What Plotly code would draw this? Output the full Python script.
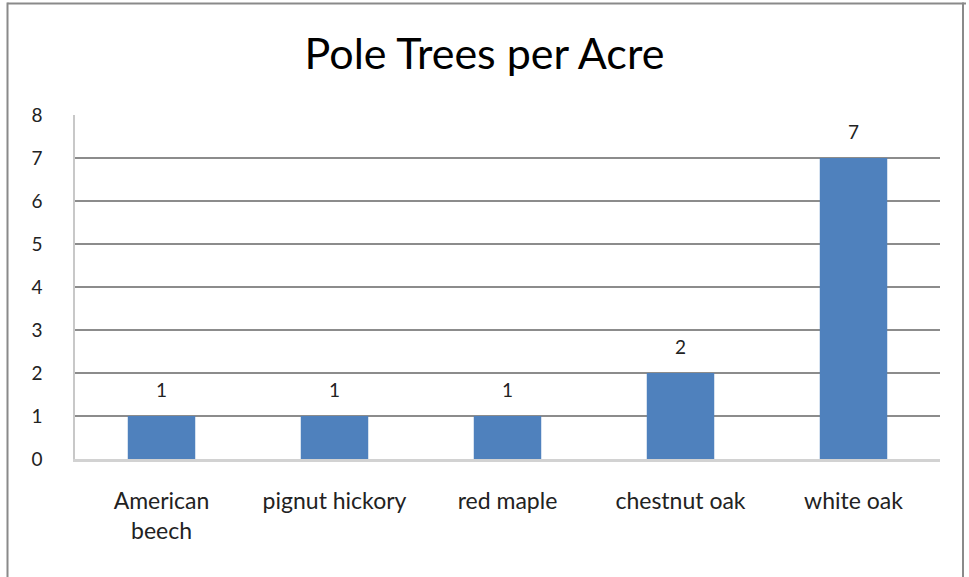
import plotly.graph_objects as go

categories = ["American<br>beech", "pignut hickory", "red maple", "chestnut oak", "white oak"]
values = [1, 1, 1, 2, 7]
y_ticks = [0, 1, 2, 3, 4, 5, 6, 7, 8]
title_text = "Pole Trees per Acre"

FONT = "Lato, 'Noto Sans', sans-serif"

fig = go.Figure()
fig.add_trace(go.Bar(
    x=categories, y=values,
    marker=dict(color="#4F81BD", line=dict(width=0)),
    hoverinfo="skip",
))

for c, v in zip(categories, values):
    fig.add_annotation(x=c, y=v, text=str(v), showarrow=False,
                       yanchor="bottom", yshift=13,
                       font=dict(family=FONT, size=19, color="#222"))

L, R, T, B = 75, 940, 115, 459
W, H = 969, 577
pw, ph = R - L, B - T

def px(x):
    return (x - L) / pw

def py(y):
    return (B - y) / ph

border = dict(color="#8a8a8a", width=2)
fig.add_shape(type="line", xref="paper", yref="paper",
              x0=px(7.5), x1=px(7.5), y0=py(2.5), y1=py(600), line=border)
fig.add_shape(type="line", xref="paper", yref="paper",
              x0=px(7.5), x1=px(966), y0=py(3.5), y1=py(3.5), line=border)
fig.add_shape(type="line", xref="paper", yref="paper",
              x0=px(963), x1=px(963), y0=py(2.5), y1=py(600), line=border)

fig.update_layout(
    width=W, height=H,
    margin=dict(l=L, r=W - R, t=T, b=H - B, pad=0),
    paper_bgcolor="white", plot_bgcolor="white",
    bargap=0.61,
    showlegend=False,
    title=dict(text=title_text, x=0.5, xanchor="center", y=1 - 54 / H, yanchor="middle",
               font=dict(family=FONT, size=43, color="#000")),
    font=dict(family=FONT, color="#222"),
)
fig.update_xaxes(
    showgrid=False, showline=True, linecolor="#d2d2d2", linewidth=3,
    ticks="", tickfont=dict(size=23, color="#222"), ticklabelstandoff=19,
    fixedrange=True,
)
fig.update_yaxes(
    range=[0, 8], tickvals=y_ticks, showgrid=True, gridcolor="#8c8c8c", gridwidth=1.5,
    showline=True, linecolor="#c8c8c8", linewidth=1.5, zeroline=False,
    ticks="", tickfont=dict(size=19, color="#222"), ticklabelstandoff=27,
    fixedrange=True,
)

fig.write_html("out.html", config={"displayModeBar": False},
               post_script="document.body.style.margin='0';document.body.style.overflow='hidden';")
